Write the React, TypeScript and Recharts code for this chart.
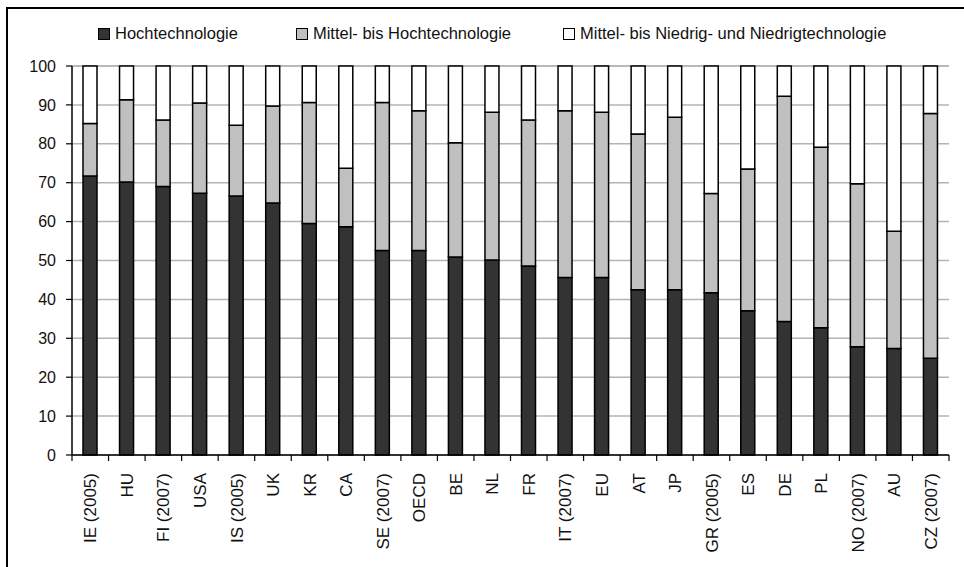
import { BarChart, Bar, XAxis, YAxis, CartesianGrid } from "recharts";

const categories = [
  "IE (2005)", "HU", "FI (2007)", "USA", "IS (2005)", "UK", "KR", "CA",
  "SE (2007)", "OECD", "BE", "NL", "FR", "IT (2007)", "EU", "AT", "JP",
  "GR (2005)", "ES", "DE", "PL", "NO (2007)", "AU", "CZ (2007)",
];

const hoch = [
  71.7, 70.2, 69.0, 67.3, 66.6, 64.8, 59.5, 58.7, 52.6, 52.6, 50.9, 50.1,
  48.6, 45.6, 45.6, 42.5, 42.5, 41.7, 37.1, 34.3, 32.7, 27.8, 27.4, 24.9,
];

const mittelHoch = [
  13.5, 21.1, 17.1, 23.2, 18.2, 24.9, 31.1, 15.0, 38.0, 35.9, 29.4, 38.0,
  37.5, 42.9, 42.5, 40.0, 44.3, 25.5, 36.4, 57.9, 46.4, 41.9, 30.1, 62.9,
];

const niedrig = [
  14.8, 8.7, 13.9, 9.5, 15.2, 10.3, 9.4, 26.3, 9.4, 11.5, 19.7, 11.9,
  13.9, 11.5, 11.9, 17.5, 13.2, 32.8, 26.5, 7.8, 20.9, 30.3, 42.5, 12.2,
];

const yTicks = [0, 10, 20, 30, 40, 50, 60, 70, 80, 90, 100];

const series = [
  { key: "hoch", name: "Hochtechnologie", color: "#333333" },
  { key: "mittelHoch", name: "Mittel- bis Hochtechnologie", color: "#c0c0c0" },
  { key: "niedrig", name: "Mittel- bis Niedrig- und Niedrigtechnologie", color: "#ffffff" },
];

const data = categories.map((name, i) => ({
  name,
  hoch: hoch[i],
  mittelHoch: mittelHoch[i],
  niedrig: niedrig[i],
}));

const font = "'Liberation Sans', Arial, sans-serif";

// rotated label + tick marks at the category boundaries
function CountryTick(props: any) {
  const { x, y, payload, index, visibleTicksCount } = props;
  const half = payload.offset || 0;
  const axisY = y - 8;
  return (
    <g>
      <line x1={x - half} y1={axisY} x2={x - half} y2={axisY + 6} stroke="#000" strokeWidth={1.2} />
      {index === visibleTicksCount - 1 && (
        <line x1={x + half} y1={axisY} x2={x + half} y2={axisY + 6} stroke="#000" strokeWidth={1.2} />
      )}
      <text
        x={0}
        y={0}
        dy="0.36em"
        transform={`translate(${x},${axisY + 18}) rotate(-90)`}
        textAnchor="end"
        fontFamily={font}
        fontSize={17}
        fill="#111"
      >
        {payload.value}
      </text>
    </g>
  );
}

function LegendBox() {
  return (
    <div
      style={{
        position: "absolute",
        top: 24,
        left: 98,
        display: "flex",
        alignItems: "center",
        fontFamily: font,
        fontSize: 16.5,
        color: "#111",
        whiteSpace: "nowrap",
      }}
    >
      {series.map((s, i) => (
        <div key={s.key} style={{ display: "flex", alignItems: "center", marginRight: i === 0 ? 58 : 52 }}>
          <span
            style={{
              display: "inline-block",
              width: 10,
              height: 10,
              background: s.color,
              border: "1.5px solid #000",
              marginRight: 5,
            }}
          />
          <span>{s.name}</span>
        </div>
      ))}
    </div>
  );
}

export default function App() {
  return (
    <div style={{ position: "absolute", left: 0, top: 0, width: 964, height: 567, background: "#fff", overflow: "hidden" }}>
      <div
        style={{
          position: "absolute",
          left: 6,
          top: 7,
          width: 1000,
          height: 600,
          borderTop: "2px solid #000",
          borderLeft: "2px solid #000",
        }}
      />
      <LegendBox />
      <BarChart
        width={964}
        height={567}
        data={data}
        margin={{ top: 66, right: 15, bottom: 0, left: 0 }}
        barSize={14}
        style={{ position: "absolute", left: 0, top: 0 }}
      >
        <CartesianGrid vertical={false} stroke="#b4b4b4" strokeWidth={1.5} />
        <XAxis
          dataKey="name"
          interval={0}
          height={112}
          axisLine={{ stroke: "#000", strokeWidth: 1.5 }}
          tickLine={false}
          tick={<CountryTick />}
        />
        <YAxis
          domain={[0, 100]}
          ticks={yTicks}
          width={72}
          interval={0}
          axisLine={{ stroke: "#000", strokeWidth: 1.5 }}
          tickLine={{ stroke: "#000", strokeWidth: 1.2 }}
          tickSize={6}
          tickMargin={10}
          tick={{ fontFamily: font, fontSize: 16, fill: "#111" }}
        />
        <YAxis
          yAxisId="right"
          orientation="right"
          width={0}
          domain={[0, 100]}
          tick={false}
          tickLine={false}
          axisLine={{ stroke: "#a0a0a0", strokeWidth: 1.5 }}
        />
        {series.map((s) => (
          <Bar
            key={s.key}
            dataKey={s.key}
            name={s.name}
            stackId="a"
            fill={s.color}
            stroke="#000"
            strokeWidth={1.5}
            isAnimationActive={false}
          />
        ))}
      </BarChart>
    </div>
  );
}
